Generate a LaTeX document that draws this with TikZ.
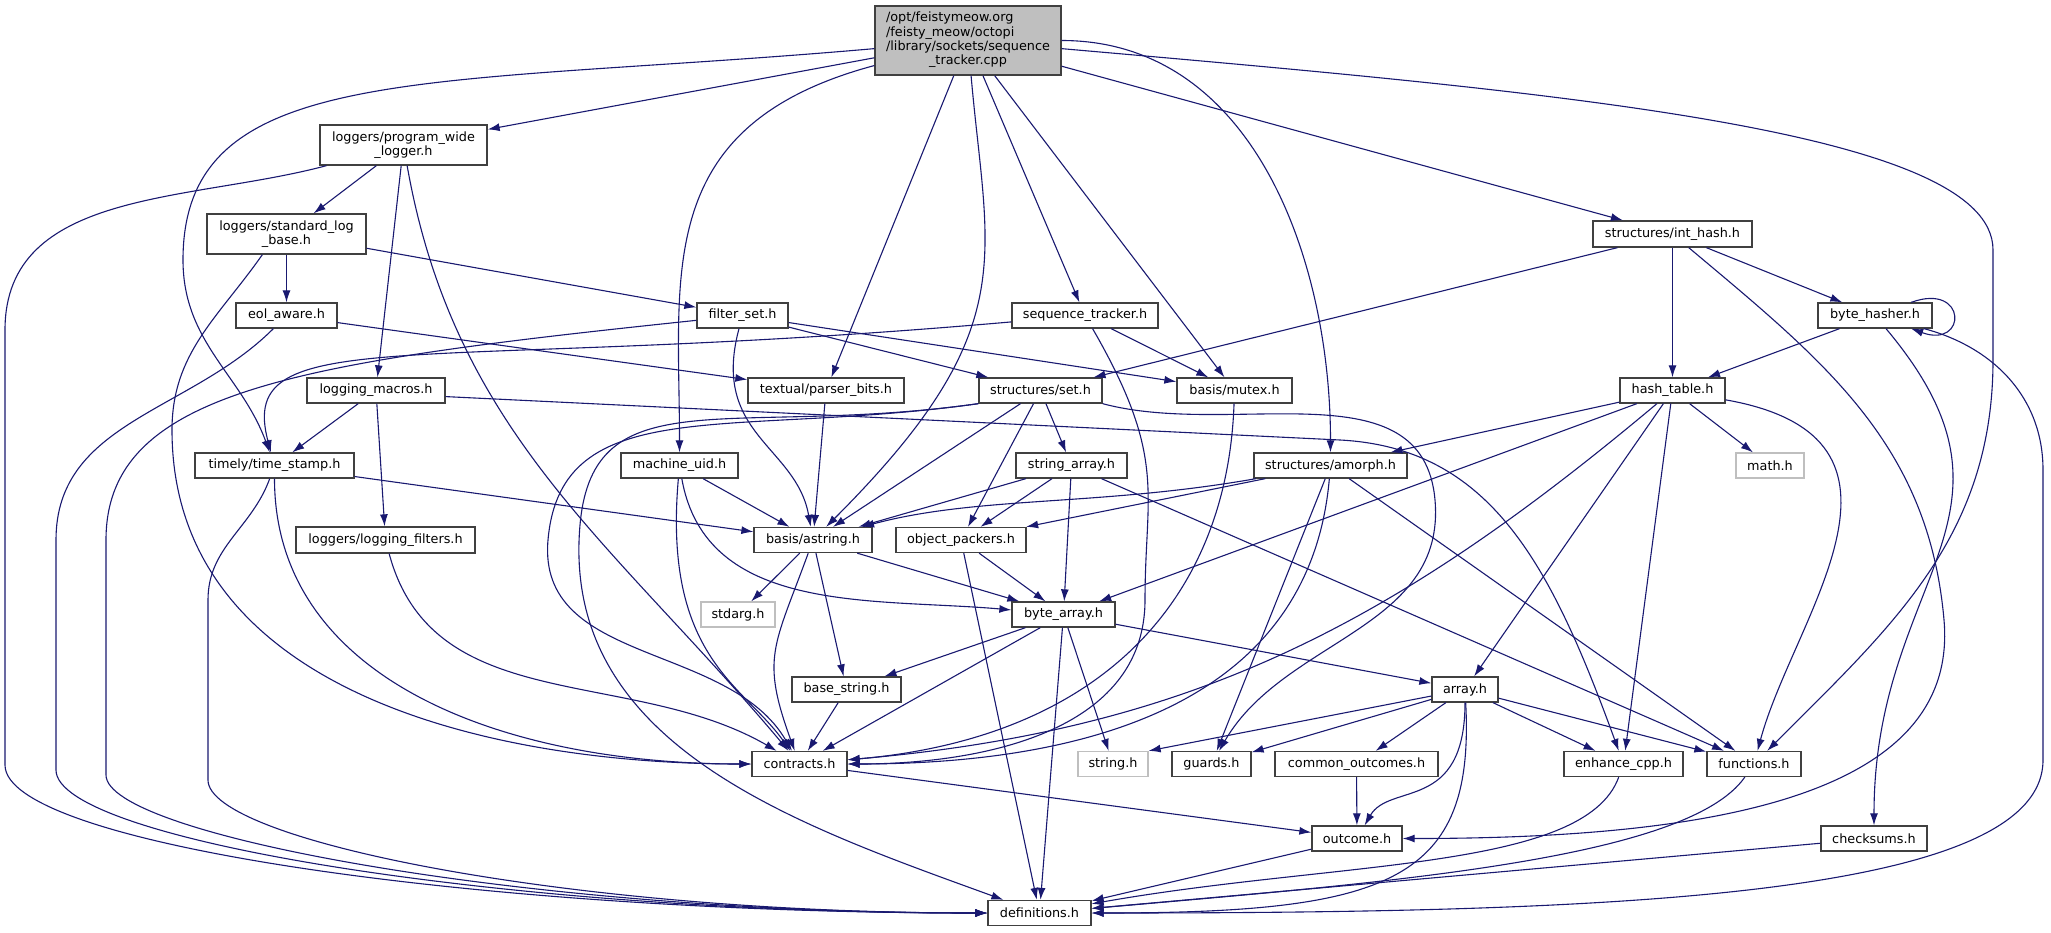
\documentclass[tikz,border=0pt]{standalone}
\usepackage{fontspec}
\setmainfont{DejaVu Sans}
\usepackage{tikz}
\usetikzlibrary{arrows.meta,positioning}

\definecolor{edgeblue}{RGB}{25,25,112}
\definecolor{grey75}{RGB}{191,191,191}
\definecolor{boxline}{RGB}{64,64,64}
\newcommand{\docfont}{\fontsize{12.8}{14.4}\selectfont}

\begin{document}
\begin{tikzpicture}[x=1pt, y=-1pt]
  \tikzstyle{element}=[rectangle, draw=boxline, fill=white, line width=1.3pt, inner sep=0pt, minimum height=25pt, font=\docfont, align=center]
  \tikzstyle{external}=[element, draw=grey75]
  \tikzstyle{header}=[element, fill=grey75]
  \tikzstyle{leadsto}=[->, >={Latex[length=12pt,width=8pt]}, draw=edgeblue, line width=1.1pt]

  \useasboundingbox (0,0) rectangle (2051,932);

  % = bottom rows =
  \node[element, minimum width=103pt] (definitions) at (1039.5,913) {definitions.h};
  \node[element, minimum width=90pt] (outcome) at (1357,838.5) {outcome.h}
      edge [leadsto] (definitions);
  \node[element, minimum width=106pt] (checksums) at (1874,838.5) {checksums.h}
      edge [leadsto] (definitions);

  \node[element, minimum width=94pt] (functions) at (1754,764) {functions.h}
      edge [leadsto, out=235, in=5, out distance=100pt, in distance=300pt] (definitions);
  \node[element, minimum width=119pt] (enhancecpp) at (1623.5,764) {enhance\_cpp.h}
      edge [leadsto, out=250, in=10, out distance=100pt, in distance=250pt] (definitions);
  \node[element, minimum width=163pt] (commonoutcomes) at (1356.5,764) {common\_outcomes.h}
      edge [leadsto] (outcome);
  \node[element, minimum width=79pt] (guards) at (1211.5,764) {guards.h};
  \node[external, minimum width=70pt] (string) at (1113,764) {string.h};
  \node[element, minimum width=95pt] (contracts) at (799.5,764) {contracts.h}
      edge [leadsto] (outcome);

  \node[element, minimum width=66pt] (array) at (1465,689.5) {array.h}
      edge [leadsto] (string.north east)
      edge [leadsto] (guards)
      edge [leadsto] (commonoutcomes)
      edge [leadsto, out=270, in=60, out distance=110pt, in distance=50pt] (outcome)
      edge [leadsto, out=-87, in=0, out distance=178pt, in distance=300pt] (definitions)
      edge [leadsto] (enhancecpp)
      edge [leadsto] (functions);
  \node[element, minimum width=109pt] (basestring) at (846.5,689.5) {base\_string.h}
      edge [leadsto] (contracts);

  \node[element, minimum width=103pt] (bytearray) at (1063.5,614.5) {byte\_array.h}
      edge [leadsto] (basestring)
      edge [leadsto] (contracts)
      edge [leadsto] (definitions)
      edge [leadsto] (string)
      edge [leadsto] (array);
  \node[external, minimum width=74pt] (stdarg) at (738,614.5) {stdarg.h};

  % = middle rows =
  \node[element, minimum width=130pt] (objectpackers) at (961,540) {object\_packers.h}
      edge [leadsto] (bytearray)
      edge [leadsto] (definitions);
  \node[element, minimum width=118pt] (astring) at (813,540) {basis/astring.h}
      edge [leadsto] (stdarg)
      edge [leadsto, out=250, in=110, distance=100pt] (contracts)
      edge [leadsto] (basestring)
      edge [leadsto] (bytearray);
  \node[element, minimum width=179pt, minimum height=26pt] (loggingfilters) at (385.5,540) {loggers/logging\_filters.h}
      edge [leadsto, out=-75, in=150] (contracts);

  \node[external, minimum width=68pt] (math) at (1770,465.5) {math.h};
  \node[element, minimum width=153pt] (amorph) at (1330.5,465.5) {structures/amorph.h}
      edge [leadsto, out=190, in=15, out distance=160pt, in distance=120pt] (astring)
      edge [leadsto] (objectpackers)
      edge [leadsto, out=265, in=0, out distance=220pt, in distance=250pt] (contracts)
      edge [leadsto] (guards)
      edge [leadsto] (functions);
  \node[element, minimum width=111pt] (stringarray) at (1071.5,465.5) {string\_array.h}
      edge [leadsto] (astring)
      edge [leadsto] (objectpackers)
      edge [leadsto] (bytearray)
      edge [leadsto] (functions);
  \node[element, minimum width=117pt] (machineuid) at (679.5,465.5) {machine\_uid.h}
      edge [leadsto] (astring)
      edge [leadsto, out=-80, in=175] (bytearray)
      edge [leadsto, out=265, in=125, out distance=180pt, in distance=80pt] (contracts);
  \node[element, minimum width=159pt] (timestamp) at (274.5,465.5) {timely/time\_stamp.h}
      edge [leadsto] (astring)
      edge [leadsto, out=270, in=180, out distance=200pt, in distance=250pt] (contracts);

  \node[element, minimum width=105pt] (hashtable) at (1672.5,390.5) {hash\_table.h}
      edge [leadsto] (amorph)
      edge [leadsto] (bytearray)
      edge [leadsto, out=220, in=5] (contracts)
      edge [leadsto] (array)
      edge [leadsto] (enhancecpp)
      edge [leadsto] (math)
      edge [leadsto, out=-10, in=75, out distance=220pt] (functions);
  \node[element, minimum width=115pt] (mutex) at (1234.5,390.5) {basis/mutex.h}
      edge [leadsto, out=268, in=5, out distance=200pt, in distance=250pt] (contracts);
  \node[element, minimum width=123pt] (set) at (1040.5,390.5) {structures/set.h}
      edge [leadsto] (astring)
      edge [leadsto] (objectpackers)
      edge [leadsto] (stringarray);
  \node[element, minimum width=156pt] (parserbits) at (826,390.5) {textual/parser\_bits.h}
      edge [leadsto] (astring);
  \node[element, minimum width=138pt] (loggingmacros) at (376,390.5) {logging\_macros.h}
      edge [leadsto] (timestamp)
      edge [leadsto] (loggingfilters);

  % = upper rows =
  \node[element, minimum width=114pt] (bytehasher) at (1875,315.5) {byte\_hasher.h}
      edge [leadsto, out=20, in=-20, distance=60pt] (bytehasher)
      edge [leadsto] (hashtable)
      edge [leadsto, out=-50, in=90, out distance=245pt, in distance=250pt] (checksums);
  \node[element, minimum width=159pt, minimum height=26pt] (inthash) at (1672.5,234) {structures/int\_hash.h}
      edge [leadsto] (set)
      edge [leadsto] (hashtable)
      edge [leadsto] (bytehasher);
  \node[element, minimum width=146pt] (seqtracker) at (1085,315.5) {sequence\_tracker.h}
      edge [leadsto, out=185, in=105, out distance=600pt, in distance=137pt] (timestamp)
      edge [leadsto] (mutex);
  \node[element, minimum width=91pt] (filterset) at (742.5,315.5) {filter\_set.h}
      edge [leadsto, out=255, in=100, out distance=110pt] (astring)
      edge [leadsto] (set)
      edge [leadsto] (mutex);
  \node[element, minimum width=101pt] (eolaware) at (286.5,315.5) {eol\_aware.h}
      edge [leadsto] (parserbits);
  \node[element, minimum width=159pt, minimum height=40pt] (stdlogbase) at (286.5,234) {loggers/standard\_log\\\_base.h}
      edge [leadsto] (eolaware)
      edge [leadsto] (filterset);
  \node[element, minimum width=167pt, minimum height=40pt] (pwl) at (403.5,145) {loggers/program\_wide\\\_logger.h}
      edge [leadsto] (stdlogbase)
      edge [leadsto] (loggingmacros)
      edge [leadsto, out=-80, in=130] (contracts);

  % the source file itself
  \node[header, minimum width=186pt, minimum height=69pt] (src) at (968,40.5)
      {\begin{tabular}{@{}l@{}}/opt/feistymeow.org\\/feisty\_meow/octopi\\/library/sockets/sequence\\\multicolumn{1}{@{}c@{}}{\_tracker.cpp}\end{tabular}}
      edge [leadsto] (pwl)
      edge [leadsto, out=195, in=90, out distance=230pt, in distance=180pt] (machineuid)
      edge [leadsto] (parserbits)
      edge [leadsto, out=275, in=45, out distance=185pt, in distance=280pt] (astring)
      edge [leadsto] (seqtracker)
      edge [leadsto] (mutex)
      edge [leadsto, out=0, in=90] (amorph)
      edge [leadsto] (inthash);

  % = long detours =
  \coordinate (st) at (183,260);
  \coordinate (rf1) at (1993,250);
  \coordinate (rf2) at (1993,360);
  \draw[leadsto] (src) to[out=185, in=90, out distance=450pt, in distance=200pt] (st) to[out=270, in=110] (timestamp);
  \draw[leadsto] (src) to[out=-5, in=90, out distance=500pt, in distance=120pt] (rf1) -- (rf2) to[out=270, in=45] (functions);

  % left side, down to definitions.h
  \coordinate (lw1) at (5,330);   \coordinate (lw2) at (5,765);
  \coordinate (le1) at (56,540);  \coordinate (le2) at (56,770);
  \coordinate (lf1) at (106,540); \coordinate (lf2) at (106,775);
  \coordinate (lt1) at (208,600); \coordinate (lt2) at (208,780);
  \coordinate (ls1) at (172,430);
  \draw[leadsto] (pwl) to[out=195, in=90] (lw1) -- (lw2) to[out=270, in=180, out distance=80pt, in distance=500pt] (definitions.west);
  \draw[leadsto] (eolaware) to[out=225, in=90] (le1) -- (le2) to[out=270, in=180, out distance=70pt, in distance=480pt] (definitions.west);
  \draw[leadsto] (filterset) to[out=186, in=90, out distance=400pt, in distance=150pt] (lf1) -- (lf2) to[out=270, in=180, out distance=60pt, in distance=460pt] (definitions.west);
  \draw[leadsto] (timestamp) to[out=250, in=90] (lt1) -- (lt2) to[out=270, in=180, out distance=60pt, in distance=420pt] (definitions.west);
  \draw[leadsto] ([xshift=56pt]stdlogbase.south west) to[out=235, in=90] (ls1) to[out=270, in=180] (contracts.west);

  % structures/set.h
  \coordinate (sc) at (548,540);
  \coordinate (sd) at (580,525);
  \coordinate (sg) at (1435,500);
  \draw[leadsto] (set.south west) to[out=188, in=85, out distance=250pt, in distance=150pt] (sc) to[out=265, in=120] (contracts);
  \draw[leadsto] (set.south west) to[out=188, in=85, out distance=250pt, in distance=150pt] (sd) to[out=265, in=160] (definitions);
  \draw[leadsto] (set.south east) to[out=-15, in=95] (sg) to[out=275, in=60] (guards);

  % the rest
  \coordinate (lm) at (1340,440);
  \coordinate (sq) at (1145,600);
  \coordinate (io) at (1944,620);
  \coordinate (rb1) at (2043,470);
  \coordinate (rb2) at (2043,760);
  \draw[leadsto] (loggingmacros.355) -- (lm) to[out=-3, in=110, out distance=150pt, in distance=200pt] (enhancecpp);
  \draw[leadsto] (seqtracker) to[out=-60, in=90, out distance=150pt] (sq) to[out=270, in=0] (contracts.east);
  \draw[leadsto] (inthash) to[out=-40, in=95] (io) to[out=275, in=0, out distance=180pt, in distance=300pt] (outcome.east);
  \draw[leadsto] (bytehasher) to[out=-15, in=90] (rb1) -- (rb2) to[out=270, in=0, out distance=140pt, in distance=500pt] (definitions.east);
\end{tikzpicture}
\end{document}
